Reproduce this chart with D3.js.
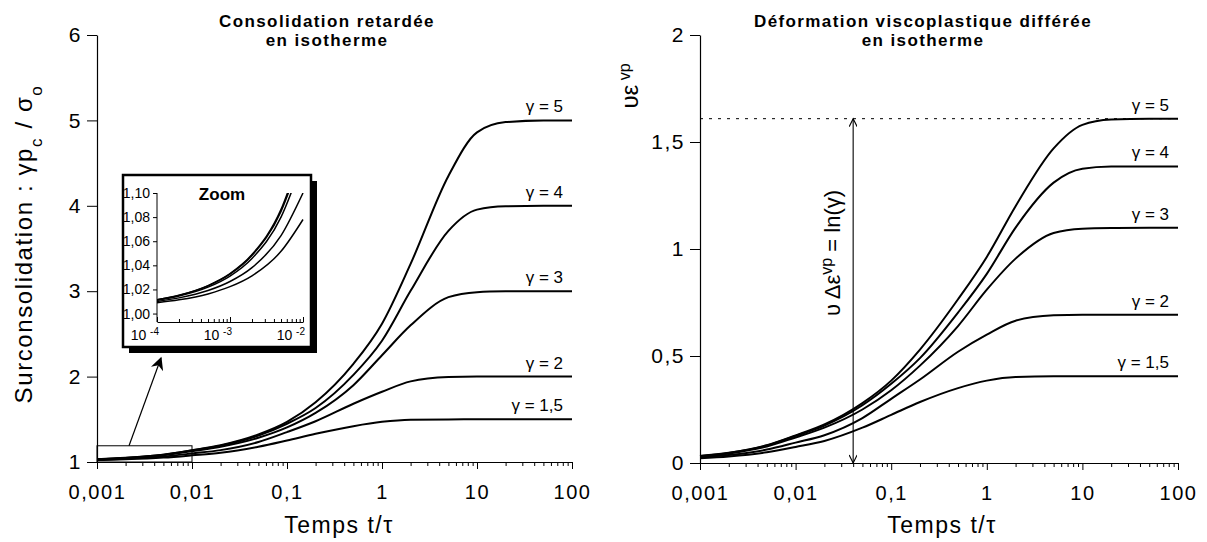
<!DOCTYPE html>
<meta charset="utf-8">
<script src="https://d3js.org/d3.v7.min.js"></script>
<style>
  body { margin: 0; background: #fff; }
  svg text { font-family: "Liberation Sans", Arial, sans-serif; fill: #000; }
</style>
<div id="my_dataviz"></div>
<script>

  // temps t/tau (the first three points are only seen in the zoom inset)
  var times = [0.0001, 0.0002, 0.0005, 0.001, 0.002, 0.005, 0.01, 0.02, 0.05, 0.1, 0.2, 0.5, 1, 2, 5, 10, 20, 50, 100];

  var gammaLabels = ["γ = 5", "γ = 4", "γ = 3", "γ = 2", "γ = 1,5"];

  // left chart : surconsolidation gamma pc / sigma0 (one value per entry of times)
  var surcons5  = [1.0115, 1.0152, 1.0232, 1.0331, 1.0489, 1.0864, 1.138, 1.197, 1.323, 1.47, 1.70, 2.15, 2.62, 3.32, 4.35, 4.86, 4.98, 5.0, 5.0];
  var surcons4  = [1.0115, 1.0151, 1.0230, 1.0327, 1.0482, 1.0848, 1.135, 1.191, 1.310, 1.448, 1.632, 2.02, 2.42, 3.004, 3.706, 3.955, 3.995, 4.0, 4.0];
  var surcons3  = [1.0110, 1.0145, 1.0219, 1.0311, 1.0457, 1.0800, 1.127, 1.179, 1.284, 1.405, 1.575, 1.90, 2.25, 2.60, 2.930, 2.989, 2.998, 3.0, 3.0];
  var surcons2  = [1.0101, 1.0130, 1.0191, 1.0266, 1.0381, 1.0646, 1.100, 1.139, 1.234, 1.350, 1.477, 1.682, 1.822, 1.944, 1.994, 2.0, 2.0, 2.0, 2.0];
  var surcons15 = [1.0090, 1.0114, 1.0163, 1.0223, 1.0313, 1.0516, 1.078, 1.108, 1.179, 1.252, 1.330, 1.419, 1.470, 1.495, 1.499, 1.5, 1.5, 1.5, 1.5];

  // right chart : nu eps vp (from t = 0.001 on)
  var defo5  = [0.0326, 0.0477, 0.0829, 0.129, 0.18, 0.28, 0.385, 0.53, 0.765, 0.963, 1.20, 1.47, 1.58, 1.605, 1.609, 1.609];
  var defo4  = [0.0322, 0.0471, 0.0814, 0.1266, 0.175, 0.27, 0.37, 0.49, 0.703, 0.884, 1.10, 1.31, 1.375, 1.385, 1.386, 1.386];
  var defo3  = [0.0306, 0.0447, 0.0769, 0.1195, 0.165, 0.25, 0.34, 0.455, 0.64, 0.81, 0.955, 1.075, 1.095, 1.098, 1.099, 1.099];
  var defo2  = [0.0262, 0.0374, 0.0626, 0.0953, 0.13, 0.21, 0.30, 0.39, 0.52, 0.60, 0.665, 0.69, 0.693, 0.693, 0.693, 0.693];
  var defo15 = [0.0221, 0.0308, 0.0503, 0.0751, 0.103, 0.165, 0.225, 0.285, 0.35, 0.385, 0.402, 0.405, 0.405, 0.405, 0.405, 0.405];

  var xTickLabels = ["0,001", "0,01", "0,1", "1", "10", "100"];
  var leftYTicks = [1, 2, 3, 4, 5, 6];
  var rightYTicks = [0, 0.5, 1, 1.5, 2];
  var insetYTicks = [1.00, 1.02, 1.04, 1.06, 1.08, 1.10];
  var insetXTicks = [0.0001, 0.001, 0.01];
  var insetXExp = ["-4", "-3", "-2"];
  var arrowTime = 0.04;      // where the ln(gamma) arrow stands
  var lnGammaMax = 1.609;    // ln(5), dotted line

  var series = [
    { label: gammaLabels[0], left: surcons5, right: defo5 },
    { label: gammaLabels[1], left: surcons4, right: defo4 },
    { label: gammaLabels[2], left: surcons3, right: defo3 },
    { label: gammaLabels[3], left: surcons2, right: defo2 },
    { label: gammaLabels[4], left: surcons15, right: defo15 }
  ];
  var mainTimes = times.filter(function (t) { return t >= 0.001; });

  var svg = d3.select("#my_dataviz")
    .append("svg")
    .attr("width", 1207)
    .attr("height", 542);

  var defs = svg.append("defs");

  function isDecade(d) {
    var l = Math.log10(d);
    return Math.abs(l - Math.round(l)) < 1e-9;
  }

  function logTicks(lo, hi) {
    var out = [];
    for (var e = Math.round(Math.log10(lo)); e < Math.round(Math.log10(hi)); e++) {
      for (var k = 1; k < 10; k++) out.push(k * Math.pow(10, e));
    }
    out.push(hi);
    return out;
  }

  function drawXAxis(g, x, y0) {
    var ax = g.append("g")
      .attr("transform", "translate(0," + y0 + ")")
      .call(d3.axisBottom(x)
        .tickValues(logTicks(0.001, 100))
        .tickSize(4)
        .tickSizeOuter(0)
        .tickFormat(function (d) {
          return isDecade(d) ? xTickLabels[Math.round(Math.log10(d)) + 3] : "";
        }));
    ax.selectAll(".tick line").filter(isDecade).attr("y2", 7);
    ax.selectAll("text").attr("y", 23).style("font-size", "20px").style("letter-spacing", "1.6px");
    ax.select(".domain").attr("stroke-width", 1.2);
    return ax;
  }

  function drawYAxis(g, y, x0, ticks) {
    var ax = g.append("g")
      .attr("transform", "translate(" + x0 + ",0)")
      .call(d3.axisLeft(y)
        .tickValues(ticks)
        .tickSize(10)
        .tickPadding(5)
        .tickSizeOuter(0)
        .tickFormat(function (d) { return String(d).replace(".", ","); }));
    ax.selectAll("text").style("font-size", "21px").style("letter-spacing", "1.5px");
    ax.select(".domain").attr("stroke-width", 1.2);
    return ax;
  }

  function drawCurves(g, x, y, dataFor, width) {
    var line = d3.line()
      .x(function (d) { return x(d.t); })
      .y(function (d) { return y(d.v); })
      .curve(d3.curveMonotoneX);
    g.selectAll(null)
      .data(series)
      .enter()
      .append("path")
      .attr("d", function (s) { return line(dataFor(s)); })
      .attr("fill", "none")
      .attr("stroke", "#000")
      .attr("stroke-width", width);
  }

  function drawGammaLabels(g, x, y, valueFor) {
    g.selectAll(null)
      .data(series)
      .enter()
      .append("text")
      .attr("x", x.range()[1] - 9)
      .attr("y", function (s) { return y(valueFor(s)) - 8; })
      .attr("text-anchor", "end")
      .style("font-size", "17px")
      .text(function (s) { return s.label; });
  }

  function title(x, lines) {
    var t = svg.append("text")
      .attr("text-anchor", "middle")
      .style("font-size", "17px")
      .style("font-weight", "bold")
      .style("letter-spacing", "1.4px");
    lines.forEach(function (l, i) {
      t.append("tspan").attr("x", x).attr("y", 27 + i * 19).text(l);
    });
  }

  // ---------- left chart ----------
  var xL = d3.scaleLog().domain([0.001, 100]).range([97, 572]);
  var yL = d3.scaleLinear().domain([1, 6]).range([462, 35]);
  var gL = svg.append("g");

  drawYAxis(gL, yL, 97, leftYTicks);
  drawXAxis(gL, xL, 462);

  drawCurves(gL, xL, yL, function (s) {
    return times.map(function (t, i) { return { t: t, v: s.left[i] }; })
      .filter(function (d) { return d.t >= 0.001; });
  }, 2);
  drawGammaLabels(gL, xL, yL, function (s) { return s.left[s.left.length - 1]; });

  title(327, ["Consolidation retardée", "en isotherme"]);

  gL.append("text")
    .attr("x", 339).attr("y", 533)
    .attr("text-anchor", "middle")
    .style("font-size", "23px")
    .style("letter-spacing", "1.5px")
    .text("Temps t/τ");

  var yLab = gL.append("text")
    .attr("transform", "translate(32,244) rotate(-90)")
    .attr("text-anchor", "middle")
    .style("font-size", "24px")
    .style("letter-spacing", "1.6px");
  yLab.append("tspan").text("Surconsolidation : γp");
  yLab.append("tspan").attr("baseline-shift", "sub").style("font-size", "17px").text("c");
  yLab.append("tspan").text(" / σ");
  yLab.append("tspan").attr("baseline-shift", "sub").style("font-size", "17px").text("o");

  // zoomed region + pointer
  gL.append("rect")
    .attr("x", xL(0.001)).attr("y", yL(1.19))
    .attr("width", xL(0.01) - xL(0.001))
    .attr("height", yL(1) - yL(1.19))
    .attr("fill", "none").attr("stroke", "#000").attr("stroke-width", 1);

  defs.append("marker")
    .attr("id", "headFill")
    .attr("viewBox", "0 0 10 10")
    .attr("refX", 9).attr("refY", 5)
    .attr("markerWidth", 16).attr("markerHeight", 13)
    .attr("markerUnits", "userSpaceOnUse")
    .attr("orient", "auto")
    .append("path").attr("d", "M0,0 L10,5 L0,10 L3,5 Z").attr("fill", "#000");

  gL.append("line")
    .attr("x1", 129).attr("y1", yL(1.19))
    .attr("x2", 161).attr("y2", 358)
    .attr("stroke", "#000").attr("stroke-width", 1.2)
    .attr("marker-end", "url(#headFill)");

  // ---------- zoom inset ----------
  var box = { x: 123, y: 175, w: 188, h: 172 };
  var gI = svg.append("g");
  gI.append("rect")
    .attr("x", box.x + 6).attr("y", box.y + 6)
    .attr("width", box.w).attr("height", box.h)
    .attr("fill", "#000");
  gI.append("rect")
    .attr("x", box.x).attr("y", box.y)
    .attr("width", box.w).attr("height", box.h)
    .attr("fill", "#fff").attr("stroke", "#000").attr("stroke-width", 2.5);

  var xI = d3.scaleLog().domain([0.0001, 0.01]).range([157, 303]);
  var yI = d3.scaleLinear().domain([0.993, 1.10]).range([322, 193]);

  defs.append("clipPath").attr("id", "insetClip")
    .append("rect").attr("x", 157).attr("y", 193).attr("width", 150).attr("height", 129);

  var axIy = gI.append("g")
    .attr("transform", "translate(157,0)")
    .call(d3.axisLeft(yI).tickValues(insetYTicks).tickSize(4).tickPadding(3).tickSizeOuter(0)
      .tickFormat(function (d) { return d3.format(".2f")(d).replace(".", ","); }));
  axIy.selectAll("text").style("font-size", "14px");
  axIy.select(".domain").attr("d", "M0," + yI(1.10) + "V322");

  var axIx = gI.append("g")
    .attr("transform", "translate(0,322)")
    .call(d3.axisBottom(xI).tickValues(logTicks(0.0001, 0.01)).tickSize(-3).tickSizeOuter(0).tickFormat(""));
  axIx.selectAll(".tick line").filter(isDecade).attr("y2", -5);

  insetXTicks.forEach(function (t, i) {
    var lab = gI.append("text")
      .attr("x", xI(t) + 2).attr("y", 340)
      .attr("text-anchor", "end")
      .style("font-size", "14px");
    lab.append("tspan").text("10 ");
    lab.append("tspan").attr("baseline-shift", "super").style("font-size", "10px").text(insetXExp[i]);
  });

  var gIc = gI.append("g").attr("clip-path", "url(#insetClip)");
  drawCurves(gIc, xI, yI, function (s) {
    return times.map(function (t, i) { return { t: t, v: s.left[i] }; })
      .filter(function (d) { return d.t <= 0.01; });
  }, 1.5);

  gI.append("text")
    .attr("x", 222).attr("y", 200)
    .attr("text-anchor", "middle")
    .style("font-size", "17px").style("font-weight", "bold")
    .text("Zoom");

  // ---------- right chart ----------
  var xR = d3.scaleLog().domain([0.001, 100]).range([700, 1178]);
  var yR = d3.scaleLinear().domain([0, 2]).range([463, 35]);
  var gR = svg.append("g");

  drawYAxis(gR, yR, 700, rightYTicks);
  drawXAxis(gR, xR, 463);

  gR.append("line")
    .attr("x1", 700).attr("x2", 1178)
    .attr("y1", yR(lnGammaMax)).attr("y2", yR(lnGammaMax))
    .attr("stroke", "#000").attr("stroke-width", 1)
    .attr("stroke-dasharray", "3,6");

  drawCurves(gR, xR, yR, function (s) {
    return mainTimes.map(function (t, i) { return { t: t, v: s.right[i] }; });
  }, 2);
  drawGammaLabels(gR, xR, yR, function (s) { return s.right[s.right.length - 1]; });

  title(923, ["Déformation viscoplastique différée", "en isotherme"]);

  gR.append("text")
    .attr("x", 942).attr("y", 533)
    .attr("text-anchor", "middle")
    .style("font-size", "23px")
    .style("letter-spacing", "1.5px")
    .text("Temps t/τ");

  var yLabR = gR.append("text")
    .attr("transform", "translate(638,86) rotate(-90)")
    .attr("text-anchor", "middle")
    .style("font-size", "24px");
  yLabR.append("tspan").text("υε");
  yLabR.append("tspan").attr("baseline-shift", "super").style("font-size", "16px").text(" vp");

  // double arrow nu delta eps = ln(gamma)
  defs.append("marker")
    .attr("id", "headOpen")
    .attr("viewBox", "0 0 10 10")
    .attr("refX", 10).attr("refY", 5)
    .attr("markerWidth", 12).attr("markerHeight", 8)
    .attr("markerUnits", "userSpaceOnUse")
    .attr("orient", "auto-start-reverse")
    .append("path").attr("d", "M0,0 L10,5 L0,10").attr("fill", "none").attr("stroke", "#000").attr("stroke-width", 1.4);

  gR.append("line")
    .attr("x1", xR(arrowTime)).attr("x2", xR(arrowTime))
    .attr("y1", yR(0)).attr("y2", yR(lnGammaMax))
    .attr("stroke", "#000").attr("stroke-width", 1.1)
    .attr("marker-start", "url(#headOpen)")
    .attr("marker-end", "url(#headOpen)");

  var ann = gR.append("text")
    .attr("transform", "translate(840,253) rotate(-90)")
    .attr("text-anchor", "middle")
    .style("font-size", "22px");
  ann.append("tspan").text("υ Δε");
  ann.append("tspan").attr("baseline-shift", "super").style("font-size", "16px").text("vp");
  ann.append("tspan").text(" = ln(γ)");

</script>
